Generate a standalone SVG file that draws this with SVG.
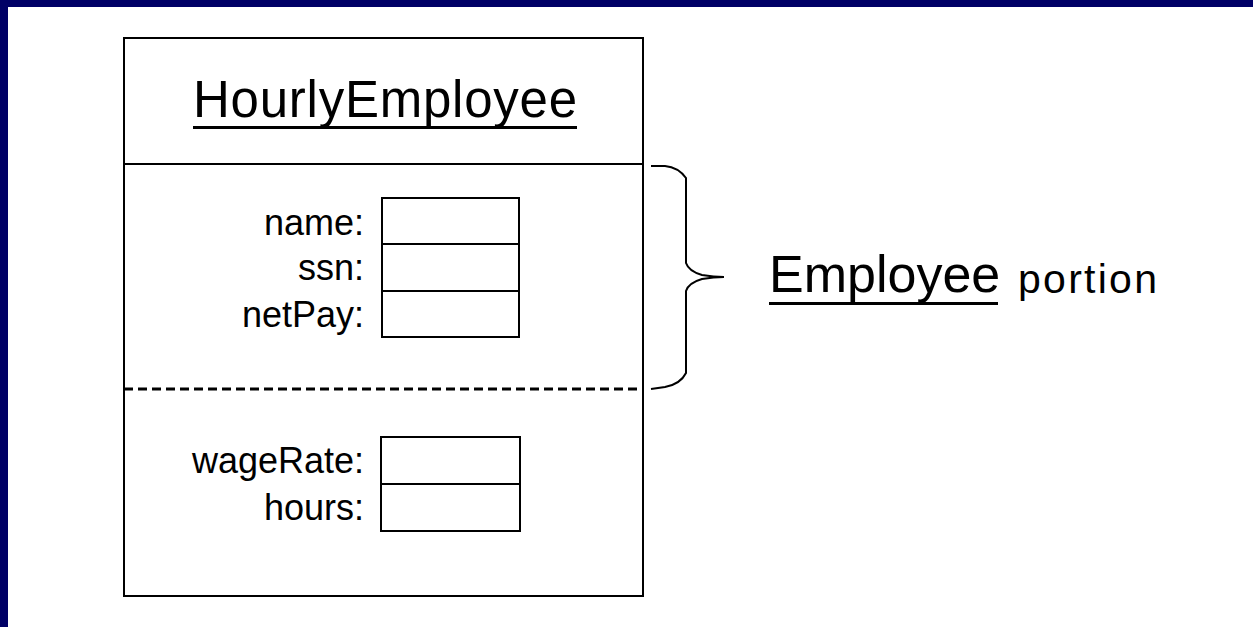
<svg xmlns="http://www.w3.org/2000/svg" width="1253" height="627" viewBox="0 0 1253 627">
  <style>
    .txt { font-family: "Liberation Sans", Arial, sans-serif; fill: #000; }
    .lbl { font-size: 36px; text-anchor: end; }
    .frame { fill: #fff; stroke: #000; stroke-width: 2; }
    .cell { fill: #fff; stroke: #000; stroke-width: 2; }
    .ln { stroke: #000; stroke-width: 2; fill: none; }
  </style>

  <!-- slide background and border -->
  <rect x="0" y="0" width="1253" height="627" fill="#fff"/>
  <rect x="0" y="0" width="1253" height="7" fill="#000066"/>
  <rect x="0" y="0" width="8" height="627" fill="#000066"/>

  <!-- object box for HourlyEmployee -->
  <g id="hourly-employee">
    <rect class="frame" x="124" y="38" width="519" height="558"/>
    <line class="ln" x1="124" y1="164" x2="643" y2="164"/>
    <text class="txt" x="193" y="117" font-size="51" textLength="384" lengthAdjust="spacing">HourlyEmployee</text>
    <rect x="193" y="126" width="384" height="3" fill="#000"/>
    <line x1="124" y1="389" x2="643" y2="389" stroke="#000" stroke-width="3" stroke-dasharray="9 5"/>
  </g>

  <!-- inherited fields -->
  <g id="employee-fields">
    <text class="txt lbl" x="364" y="235">name:</text>
    <text class="txt lbl" x="364" y="280">ssn:</text>
    <text class="txt lbl" x="364" y="327">netPay:</text>
    <rect class="cell" x="382" y="198" width="137" height="46"/>
    <rect class="cell" x="382" y="244" width="137" height="47"/>
    <rect class="cell" x="382" y="291" width="137" height="46"/>
  </g>

  <!-- own fields -->
  <g id="hourly-fields">
    <text class="txt lbl" x="364" y="473">wageRate:</text>
    <text class="txt lbl" x="364" y="520">hours:</text>
    <rect class="cell" x="381" y="437" width="139" height="47"/>
    <rect class="cell" x="381" y="484" width="139" height="47"/>
  </g>

  <!-- brace and its label -->
  <g id="connectors">
    <path class="ln" d="M651,166 L665,166 C675,167 681,171 686,178 L686,263 C688,269 695,273 702,275 C708,276 714,277 724,277 C714,277 708,278 702,279 C695,281 688,285 686,291 L686,373 C682,381 676,385 665,387 L651,389"/>
  </g>
  <g id="employee-portion">
    <text class="txt" x="769" y="292" font-size="52">Employee</text>
    <rect x="769" y="302" width="229" height="3" fill="#000"/>
    <text class="txt" x="1018" y="293" font-size="41" textLength="139" lengthAdjust="spacing">portion</text>
  </g>
</svg>
